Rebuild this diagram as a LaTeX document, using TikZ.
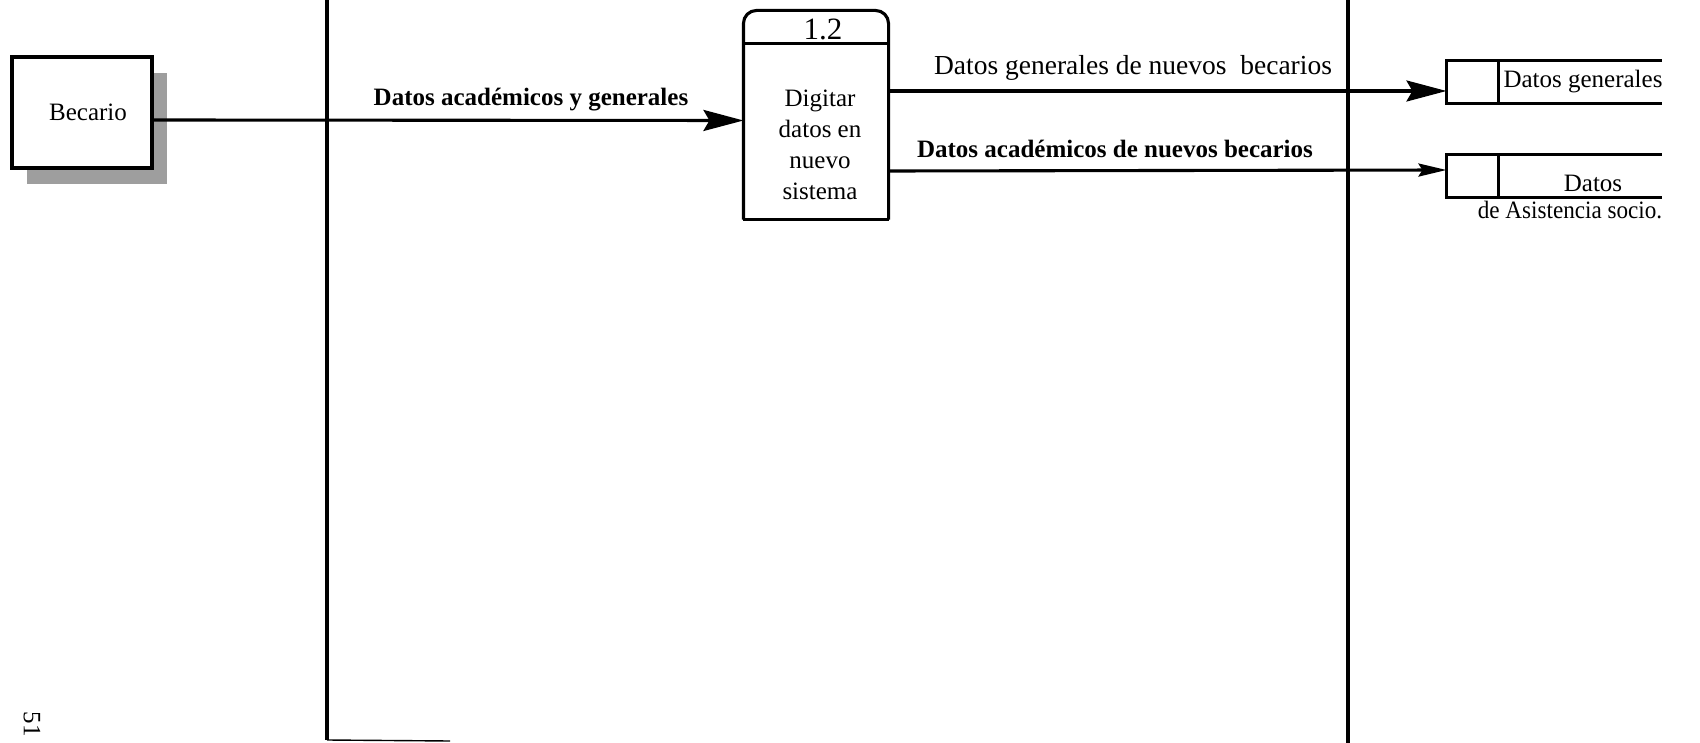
\documentclass[tikz,border=0pt]{standalone}
\usepackage{fontspec}
\setmainfont{Liberation Serif}
\usetikzlibrary{arrows.meta,calc}
\begin{document}
\begin{tikzpicture}[x=1pt,y=-1pt,
  font=\fontsize{25}{31}\selectfont,
  line width=3.1pt,
  entity/.style={draw,fill=white,minimum width=140pt,minimum height=111pt,inner sep=0pt},
  shadowbox/.style={fill=black!38,draw=none},
  procbox/.style={minimum width=142pt,minimum height=206pt,inner sep=0pt},
  storebox/.style={minimum width=212pt,minimum height=40pt,inner sep=0pt},
  flow/.style={-{Stealth[length=40pt,width=21pt,inset=6pt]}},
  smallflow/.style={-{Stealth[length=28pt,width=13pt,inset=4pt]}},
  lbl/.style={inner sep=0pt},
  flowlbl/.style={inner sep=0pt,font=\fontsize{25}{31}\selectfont\bfseries}]
\useasboundingbox (0,0) rectangle (1700,743);

% swim-lane separators
\coordinate (laneAtop) at (327,0);
\coordinate (laneAbot) at (327,740);
\coordinate (laneBtop) at (1348,0);
\coordinate (laneBbot) at (1348,743);
\draw (laneAtop) -- (laneAbot);
\draw (laneBtop) -- (laneBbot);
\coordinate (cutend) at (450,741);
\draw[line width=1.4pt] (laneAbot) -- (cutend);

% external entity with its shadow
\fill[shadowbox] (27,73) rectangle (167,184);
\node[entity] (becario) at (82,112.5) {\hspace{12pt}Becario};

% process 1.2
\node[procbox] (proc) at (816,115) {};
\draw[rounded corners=13pt] (proc.south west) -- (proc.north west) -- (proc.north east) -- (proc.south east);
\draw (proc.south west) -- (proc.south east);
\draw ($(proc.north west)+(0,33)$) coordinate (divl) -- ($(proc.north east)+(0,33)$) coordinate (divr);
\node[lbl] (procid) at (823,29) {\fontsize{31}{31}\selectfont 1.2};
\node[lbl,align=center] (proctext) at (820,145) {Digitar\\datos en\\nuevo\\sistema};

% data stores
\node[storebox] (store1) at (1554,82) {};
\draw (store1.north east) -- (store1.north west) -- (store1.south west) -- (store1.south east);
\draw ($(store1.north west)+(52,0)$) -- ($(store1.south west)+(52,0)$);
\node[lbl] (store1text) at (1583,82) {Datos generales};

\node[storebox] (store2) at (1554,176) {};
\draw (store2.north east) -- (store2.north west) -- (store2.south west) -- (store2.south east);
\draw ($(store2.north west)+(52,0)$) -- ($(store2.south west)+(52,0)$);
\node[lbl] (store2text) at (1593,183) {Datos};
\node[lbl,xscale=0.925] (store2text2) at (1570,210) {de Asistencia socio.};

% data flows
\draw[flow] ([yshift=-7.5pt]becario.east) -- ([yshift=-5.5pt]proc.west);
\draw[flow] ([yshift=24pt]proc.east) -- ([yshift=-9pt]store1.west);
\draw[smallflow] ([yshift=-56pt]proc.east) -- ([yshift=6pt]store2.west);

\node[flowlbl] (f1) at (531,100) {Datos académicos y generales};
\node[lbl] (f2) at (1133,68) {\fontsize{27.5}{31}\selectfont Datos generales de nuevos\ \ becarios};
\node[flowlbl] (f3) at (1115,149) {Datos académicos de nuevos becarios};

% page number
\node[lbl,rotate=-90] (pagenum) at (32,724) {51};
\end{tikzpicture}
\end{document}
